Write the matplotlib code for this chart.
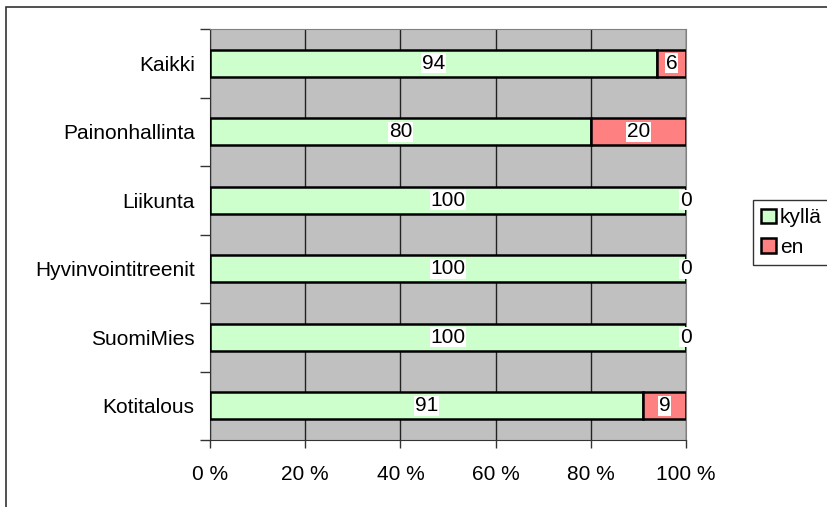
import matplotlib.pyplot as plt
import numpy as np
from matplotlib.patches import Rectangle

plt.rcParams['font.family'] = ['Liberation Sans', 'DejaVu Sans']

categories = ["Kaikki", "Painonhallinta", "Liikunta", "Hyvinvointitreenit", "SuomiMies", "Kotitalous"]
kylla = [94, 80, 100, 100, 100, 91]
en = [6, 20, 0, 0, 0, 9]
series_names = ["kyllä", "en"]
xticks = [0, 20, 40, 60, 80, 100]

fs = 15
fig = plt.figure(figsize=(8.28, 5.07), dpi=100)
fig.patch.set_facecolor("white")
# outer chart frame
fig.patches.append(Rectangle((6 / 828, -0.1), 1.2, 1 - 7 / 507 + 0.1, transform=fig.transFigure,
                             fill=False, edgecolor="#333333", linewidth=1.2))

ax = fig.add_axes([210 / 828, 1 - 440 / 507, 476 / 828, 411 / 507])
ax.set_facecolor("#C0C0C0")

y = np.arange(len(categories))
h = 0.4
ax.barh(y, kylla, height=h, color="#CCFFCC", edgecolor="black", linewidth=1.8, label=series_names[0], zorder=3)
ax.barh(y, en, left=kylla, height=h, color="#FF8080", edgecolor="black", linewidth=1.8, label=series_names[1], zorder=3)

for i in range(len(categories)):
    ax.text(kylla[i] / 2, y[i], str(kylla[i]), ha="center", va="center", fontsize=fs, zorder=5,
            bbox=dict(facecolor="white", edgecolor="none", pad=0.5))
    ax.text(kylla[i] + en[i] / 2, y[i], str(en[i]), ha="center", va="center", fontsize=fs, zorder=5,
            bbox=dict(facecolor="white", edgecolor="none", pad=0.5))

ax.set_xlim(0, 100)
ax.set_ylim(len(categories) - 0.5, -0.5)
ax.set_xticks(xticks)
ax.set_xticklabels([f"{t} %" for t in xticks], fontsize=fs)
ax.set_yticks(y)
ax.set_yticklabels(categories, fontsize=fs)
ax.set_yticks(np.arange(-0.5, len(categories)), minor=True)
ax.tick_params(axis="y", which="major", length=0, pad=11)
ax.tick_params(axis="y", which="minor", length=7, width=1, color="#333333")
ax.tick_params(axis="x", length=6, width=1, pad=12, color="#333333")
ax.grid(axis="x", color="#222222", linewidth=1, zorder=0)
ax.set_axisbelow(True)
for s in ["top", "right"]:
    ax.spines[s].set_color("#808080")
for s in ["left", "bottom"]:
    ax.spines[s].set_color("#333333")

leg = ax.legend(loc="upper left", bbox_to_anchor=(753 / 828, 1 - 200 / 507), bbox_transform=fig.transFigure,
                fontsize=fs, frameon=True, fancybox=False, edgecolor="black", handlelength=0.7,
                handleheight=0.7, handletextpad=0.2, borderpad=0.4, labelspacing=0.5, borderaxespad=0)
leg.get_frame().set_linewidth(1)

fig.savefig("out.png", dpi=100)
